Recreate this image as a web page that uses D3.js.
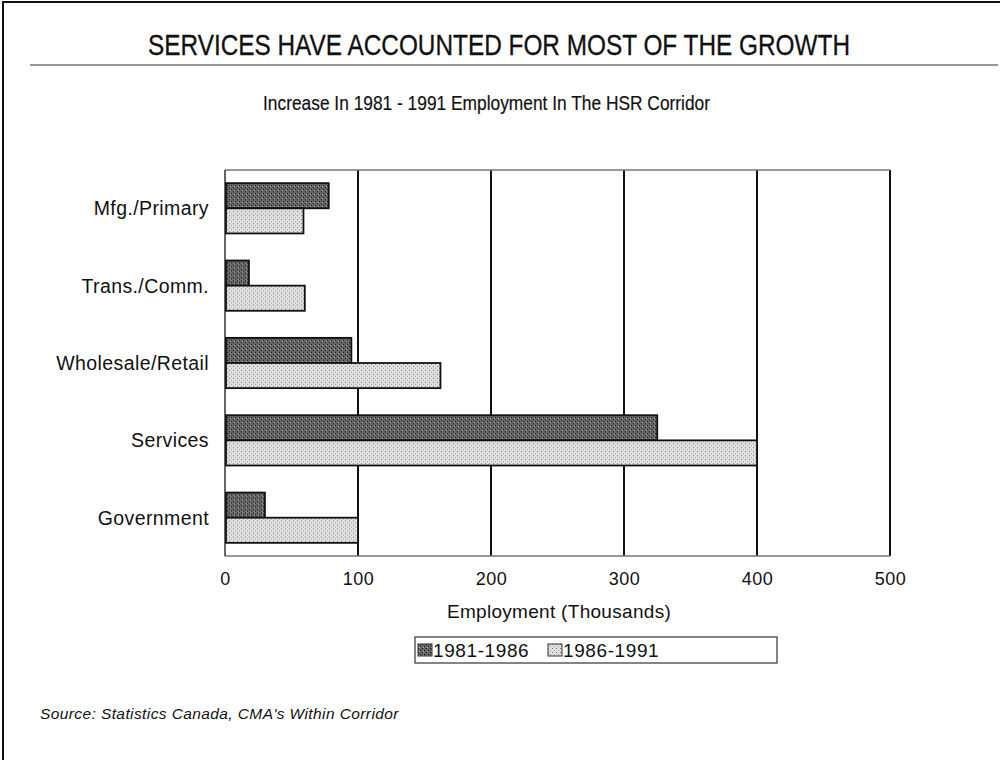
<!DOCTYPE html>
<html>
<head>
<meta charset="utf-8">
<script src="https://cdn.jsdelivr.net/npm/d3@7"></script>
<style>
  body { margin: 0; background: #fff; }
  text { font-family: "Liberation Sans", Arial, sans-serif; fill: #111; }
</style>
</head>
<body>
<div id="chart"></div>
<script>
var svgWidth = 1000;
var svgHeight = 760;

// data
var categories = ["Mfg./Primary", "Trans./Comm.", "Wholesale/Retail", "Services", "Government"];
var series = ["1981-1986", "1986-1991"];
var values8186 = [78, 18, 95, 325, 30];
var values8691 = [59, 60, 162, 400, 100];
var xTicks = [0, 100, 200, 300, 400, 500];

var margin = { top: 170, right: 110, bottom: 204, left: 225 };
var width = svgWidth - margin.left - margin.right;
var height = svgHeight - margin.top - margin.bottom;

var svg = d3.select("#chart")
  .append("svg")
  .attr("width", svgWidth)
  .attr("height", svgHeight);

// stipple patterns to mimic the photocopied fills
var defs = svg.append("defs");
var dark = defs.append("pattern")
  .attr("id", "darkFill")
  .attr("width", 4).attr("height", 4)
  .attr("patternUnits", "userSpaceOnUse");
dark.append("rect").attr("width", 4).attr("height", 4).attr("fill", "#666");
dark.append("rect").attr("x", 0).attr("y", 0).attr("width", 1).attr("height", 1).attr("fill", "#111");
dark.append("rect").attr("x", 2).attr("y", 2).attr("width", 1).attr("height", 1).attr("fill", "#111");
dark.append("rect").attr("x", 1).attr("y", 3).attr("width", 1).attr("height", 1).attr("fill", "#bbb");

var light = defs.append("pattern")
  .attr("id", "lightFill")
  .attr("width", 4).attr("height", 4)
  .attr("patternUnits", "userSpaceOnUse");
light.append("rect").attr("width", 4).attr("height", 4).attr("fill", "#e0e0e0");
light.append("rect").attr("x", 0).attr("y", 0).attr("width", 1).attr("height", 1).attr("fill", "#777");
light.append("rect").attr("x", 2).attr("y", 2).attr("width", 1).attr("height", 1).attr("fill", "#999");

var fills = ["url(#darkFill)", "url(#lightFill)"];

// page frame
svg.append("line").attr("x1", 3).attr("x2", 3).attr("y1", 2).attr("y2", svgHeight)
  .attr("stroke", "#111").attr("stroke-width", 2);
svg.append("line").attr("x1", 2).attr("x2", svgWidth).attr("y1", 2).attr("y2", 2)
  .attr("stroke", "#111").attr("stroke-width", 2);

// titles (condensed, squeezed to the printed width)
svg.append("text")
  .attr("x", 148).attr("y", 55)
  .attr("textLength", 702)
  .attr("lengthAdjust", "spacingAndGlyphs")
  .style("font-size", "29px")
  .style("stroke", "#111").style("stroke-width", 0.3)
  .text("SERVICES HAVE ACCOUNTED FOR MOST OF THE GROWTH");
svg.append("line").attr("x1", 30).attr("x2", 998).attr("y1", 65).attr("y2", 65)
  .attr("stroke", "#333").attr("stroke-width", 1.2);
svg.append("text")
  .attr("x", 263).attr("y", 110)
  .attr("textLength", 447)
  .attr("lengthAdjust", "spacingAndGlyphs")
  .style("font-size", "21px")
  .style("stroke", "#111").style("stroke-width", 0.2)
  .text("Increase In 1981 - 1991 Employment In The HSR Corridor");

var chartGroup = svg.append("g")
  .attr("transform", `translate(${margin.left}, ${margin.top})`);

var xScale = d3.scaleLinear().domain([0, 500]).range([0, width]);
var yScale = d3.scaleBand().domain(categories).range([0, height]).paddingInner(0.35).paddingOuter(0.17);
var subScale = d3.scaleBand().domain(series).range([0, yScale.bandwidth()]);

// vertical grid lines
chartGroup.selectAll(".grid")
  .data(xTicks.slice(1))
  .enter()
  .append("line")
  .attr("x1", d => xScale(d)).attr("x2", d => xScale(d))
  .attr("y1", 0).attr("y2", height)
  .attr("stroke", "#111").attr("stroke-width", 2);

// plot frame
chartGroup.append("line").attr("x1", 0).attr("x2", width).attr("y1", 0).attr("y2", 0)
  .attr("stroke", "#777").attr("stroke-width", 1.5);
chartGroup.append("line").attr("x1", 0).attr("x2", width).attr("y1", height).attr("y2", height)
  .attr("stroke", "#777").attr("stroke-width", 1.5);
chartGroup.append("line").attr("x1", 0).attr("x2", 0).attr("y1", 0).attr("y2", height)
  .attr("stroke", "#333").attr("stroke-width", 1.5);

// bars
var rows = categories.map((c, i) => ({ cat: c, vals: [values8186[i], values8691[i]] }));
var groups = chartGroup.selectAll(".row")
  .data(rows)
  .enter()
  .append("g")
  .attr("transform", d => `translate(0, ${yScale(d.cat)})`);

groups.selectAll("rect")
  .data(d => d.vals.map((v, j) => ({ s: series[j], v: v, j: j })))
  .enter()
  .append("rect")
  .attr("x", xScale(0) + 1)
  .attr("y", d => subScale(d.s))
  .attr("width", d => xScale(d.v) - xScale(0) - 1)
  .attr("height", subScale.bandwidth())
  .attr("fill", d => fills[d.j])
  .attr("stroke", "#111")
  .attr("stroke-width", 1.8);

// y axis labels
chartGroup.selectAll(".ylabel")
  .data(categories)
  .enter()
  .append("text")
  .attr("x", -16)
  .attr("y", d => yScale(d) + yScale.bandwidth() / 2 + 7)
  .attr("text-anchor", "end")
  .style("font-size", "19.5px")
  .style("letter-spacing", "0.4px")
  .text(d => d);

// x axis
var bottomAxis = d3.axisBottom(xScale).tickValues(xTicks).tickSize(0).tickPadding(16);
var xAxis = chartGroup.append("g")
  .attr("transform", `translate(0, ${height})`)
  .call(bottomAxis);
xAxis.select(".domain").remove();
xAxis.selectAll("text")
  .style("font-family", "'Liberation Sans', Arial, sans-serif")
  .style("font-size", "18px")
  .style("letter-spacing", "0.5px")
  .attr("fill", "#111");

svg.append("text")
  .attr("x", 559).attr("y", 618)
  .attr("text-anchor", "middle")
  .style("font-size", "19px")
  .style("letter-spacing", "0.3px")
  .text("Employment (Thousands)");

// legend
var legend = svg.append("g").attr("transform", "translate(415, 637)");
legend.append("rect")
  .attr("width", 362).attr("height", 26)
  .attr("fill", "none").attr("stroke", "#333").attr("stroke-width", 1.2);
var legendItems = legend.selectAll(".item")
  .data(series)
  .enter()
  .append("g")
  .attr("transform", (d, i) => `translate(${3 + i * 130}, 7)`);
legendItems.append("rect")
  .attr("width", 14).attr("height", 12)
  .attr("fill", (d, i) => fills[i])
  .attr("stroke", "#333").attr("stroke-width", 1);
legendItems.append("text")
  .attr("x", 15).attr("y", 13)
  .style("font-size", "19px")
  .style("letter-spacing", "0.6px")
  .text(d => d);

// source note
svg.append("text")
  .attr("x", 40).attr("y", 719)
  .style("font-size", "15.5px")
  .style("font-style", "italic")
  .style("letter-spacing", "0.4px")
  .text("Source: Statistics Canada, CMA's Within Corridor");
</script>
</body>
</html>
